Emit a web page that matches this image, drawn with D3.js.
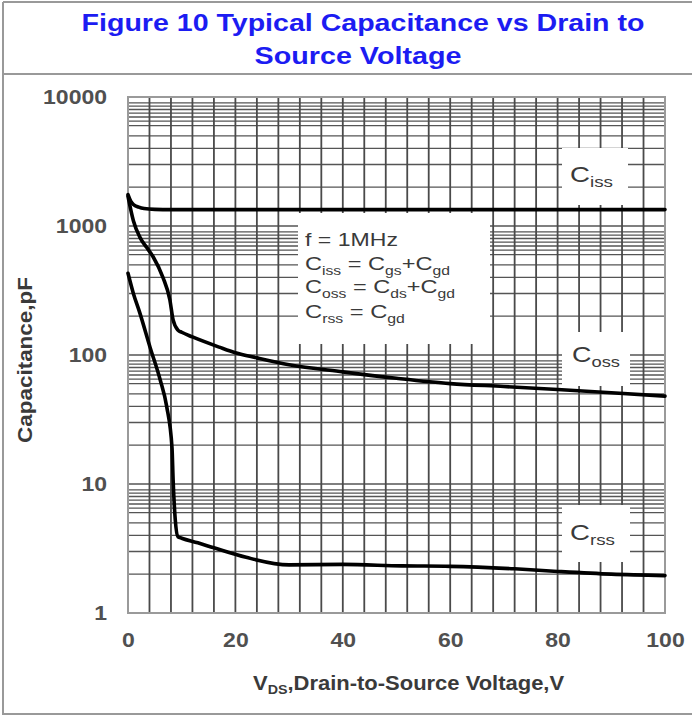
<!DOCTYPE html>
<html>
<head>
<meta charset="utf-8">
<script src="https://cdn.jsdelivr.net/npm/d3@7"></script>
<style>
  html, body { margin: 0; padding: 0; background: #fff; }
  svg { display: block; font-family: "Liberation Sans", Arial, sans-serif; }
</style>
</head>
<body>
<svg id="chart" width="692" height="716"></svg>
<script>
// ---------- data ----------
const xTicks = [0, 20, 40, 60, 80, 100];
const yTicks = [1, 10, 100, 1000, 10000];
const xGrid = [0, 4, 8, 12, 16, 20, 24, 28, 32, 36, 40, 44, 48, 52, 56, 60, 64, 68, 72, 76, 80, 84, 88, 92, 96, 100];
const yMinorMult = [2, 3, 4, 5, 6, 6.5, 7, 7.5, 8, 8.5, 9];

const cissV = [0, 0.5, 1, 2, 3, 5, 8, 20, 40, 60, 80, 100];
const cissC = [1750, 1560, 1470, 1400, 1365, 1345, 1340, 1340, 1340, 1340, 1340, 1340];

const cossV = [0, 1, 2.2, 3.5, 4.7, 6.5, 7.8, 8.4, 9.3, 10, 12, 17, 20, 24, 30, 40, 50, 60, 70, 80, 90, 100];
const cossC = [1700, 1100, 820, 680, 575, 400, 267, 187, 156, 150, 138, 115, 104, 95, 84, 74, 66, 60, 57, 54, 51, 48];

const crssV = [0, 1, 2.2, 4.1, 6, 7.2, 8.2, 8.4, 8.8, 9.3, 10, 13, 16, 22, 30, 40, 51, 60, 72, 80, 90, 100];
const crssC = [430, 300, 212, 115, 64, 40, 19, 10.8, 5.3, 3.9, 3.8, 3.5, 3.2, 2.7, 2.36, 2.38, 2.32, 2.3, 2.2, 2.1, 2.0, 1.95];

// ---------- layout ----------
const svg = d3.select("#chart");
const L = 128, R = 665, T = 97, B = 613;
const x = d3.scaleLinear().domain([0, 100]).range([L, R]);
const y = d3.scaleLog().domain([1, 10000]).range([B, T]);

function fitGroup(g, targetW) {
  const w = g.node().getBBox().width;
  return w > 0 ? targetW / w : 1;
}

// outer frame
const frame = svg.append("g").attr("stroke", "#999").attr("stroke-width", 2).attr("fill", "none");
frame.append("line").attr("x1", 3).attr("x2", 692).attr("y1", 2).attr("y2", 2);
frame.append("line").attr("x1", 3).attr("x2", 692).attr("y1", 74).attr("y2", 74);
frame.append("line").attr("x1", 3).attr("x2", 3).attr("y1", 2).attr("y2", 715);
frame.append("line").attr("x1", 3).attr("x2", 692).attr("y1", 714).attr("y2", 714);

// title
function titleLine(txt, cx, base, width) {
  const g = svg.append("g");
  g.append("text").attr("x", 0).attr("y", 0)
    .attr("text-anchor", "middle").attr("font-size", 23).attr("font-weight", "bold")
    .attr("fill", "#1c1cf2").text(txt);
  const s = fitGroup(g, width);
  g.attr("transform", `translate(${cx},${base}) scale(${s},1)`);
}
titleLine("Figure 10  Typical Capacitance vs Drain to", 363, 31, 563);
titleLine("Source Voltage", 358, 64, 207);

// grid
const grid = svg.append("g");
const yGrid = [];
yTicks.forEach(d => { yGrid.push(d); if (d < 10000) yMinorMult.forEach(m => yGrid.push(d * m)); });
grid.selectAll("line.h").data(yGrid).join("line")
  .attr("x1", L).attr("x2", R)
  .attr("y1", d => y(d)).attr("y2", d => y(d))
  .attr("stroke", "#555").attr("stroke-width", 1.4);
grid.selectAll("line.v").data(xGrid).join("line")
  .attr("x1", d => x(d)).attr("x2", d => x(d))
  .attr("y1", T).attr("y2", B)
  .attr("stroke", "#4a4a4a").attr("stroke-width", 1.8);
svg.append("rect").attr("x", L).attr("y", T).attr("width", R - L).attr("height", B - T)
  .attr("fill", "none").attr("stroke", "#9a9a9a").attr("stroke-width", 2);

// white boxes hiding grid
const boxes = [
  [298, 213, 490, 344],
  [562, 148, 628, 205],
  [562, 332, 630, 386],
  [562, 505, 630, 562]
];
svg.append("g").selectAll("rect").data(boxes).join("rect")
  .attr("x", d => d[0]).attr("y", d => d[1])
  .attr("width", d => d[2] - d[0]).attr("height", d => d[3] - d[1])
  .attr("fill", "#fff");

// axes
const axL = svg.append("g").attr("transform", `translate(${L},0)`)
  .call(d3.axisLeft(y).tickValues(yTicks).tickFormat(d3.format("d")).tickSize(0).tickPadding(21));
const axB = svg.append("g").attr("transform", `translate(0,${B})`)
  .call(d3.axisBottom(x).tickValues(xTicks).tickFormat(d3.format("d")).tickSize(0).tickPadding(20));
[axL, axB].forEach(a => {
  a.select(".domain").remove();
  a.selectAll("text").attr("font-size", 20).attr("font-weight", "bold")
    .attr("fill", "#505050").attr("font-family", "Liberation Sans, Arial, sans-serif");
});
const sx = 1.15;
axL.selectAll("text").attr("x", -21 / sx).attr("transform", `scale(${sx},1)`);
axB.selectAll("text").attr("transform", `scale(${sx},1)`);

// axis titles
{
  const g = svg.append("g");
  g.append("text").attr("text-anchor", "middle").attr("font-size", 20).attr("font-weight", "bold")
    .attr("fill", "#3a3a3a").text("Capacitance,pF");
  const s = fitGroup(g, 166);
  g.attr("transform", `translate(32,360) rotate(-90) scale(${s},1)`);
}
{
  const g = svg.append("g");
  const t = g.append("text").attr("font-size", 20).attr("font-weight", "bold").attr("fill", "#3a3a3a");
  t.append("tspan").text("V");
  t.append("tspan").attr("font-size", 13).attr("dy", 4).text("DS");
  t.append("tspan").attr("dy", -4).text(",Drain-to-Source Voltage,V");
  const s = fitGroup(g, 312);
  g.attr("transform", `translate(253,690) scale(${s},1)`);
}

// curves
const line = d3.line().x(d => x(d[0])).y(d => y(d[1])).curve(d3.curveMonotoneX);
const series = [
  cissV.map((v, i) => [v, cissC[i]]),
  cossV.map((v, i) => [v, cossC[i]]),
  crssV.map((v, i) => [v, crssC[i]])
];
svg.append("g").selectAll("path").data(series).join("path")
  .attr("d", line).attr("fill", "none").attr("stroke", "#000")
  .attr("stroke-width", 3.6).attr("stroke-linejoin", "round").attr("stroke-linecap", "round");

// legend text
function subText(parent, parts, size, subSize) {
  const t = parent.append("text").attr("font-size", size).attr("fill", "#3a3a3a");
  let lowered = false;
  parts.forEach(p => {
    const isSub = p.startsWith("_");
    const txt = isSub ? p.slice(1) : p;
    const ts = t.append("tspan").text(txt);
    if (isSub && !lowered) { ts.attr("font-size", subSize).attr("dy", 5); lowered = true; }
    else if (isSub) { ts.attr("font-size", subSize); }
    else if (!isSub && lowered) { ts.attr("dy", -5); lowered = false; }
  });
  return t;
}
const legendLines = [
  { parts: ["f = 1MHz"], base: 246, w: 93 },
  { parts: ["C", "_iss", " = C", "_gs", "+C", "_gd"], base: 270, w: 145 },
  { parts: ["C", "_oss", " = C", "_ds", "+C", "_gd"], base: 293, w: 150 },
  { parts: ["C", "_rss", " = C", "_gd"], base: 318, w: 100 }
];
legendLines.forEach(l => {
  const g = svg.append("g");
  subText(g, l.parts, 18, 12);
  const s = fitGroup(g, l.w);
  g.attr("transform", `translate(305,${l.base}) scale(${s},1)`);
});

// series labels
const seriesLabels = [
  { parts: ["C", "_iss"], x: 570, base: 182, w: 43 },
  { parts: ["C", "_oss"], x: 572, base: 362, w: 48 },
  { parts: ["C", "_rss"], x: 570, base: 540, w: 45 }
];
seriesLabels.forEach(l => {
  const g = svg.append("g");
  subText(g, l.parts, 22, 15);
  const s = fitGroup(g, l.w);
  g.attr("transform", `translate(${l.x},${l.base}) scale(${s},1)`);
});
</script>
</body>
</html>
